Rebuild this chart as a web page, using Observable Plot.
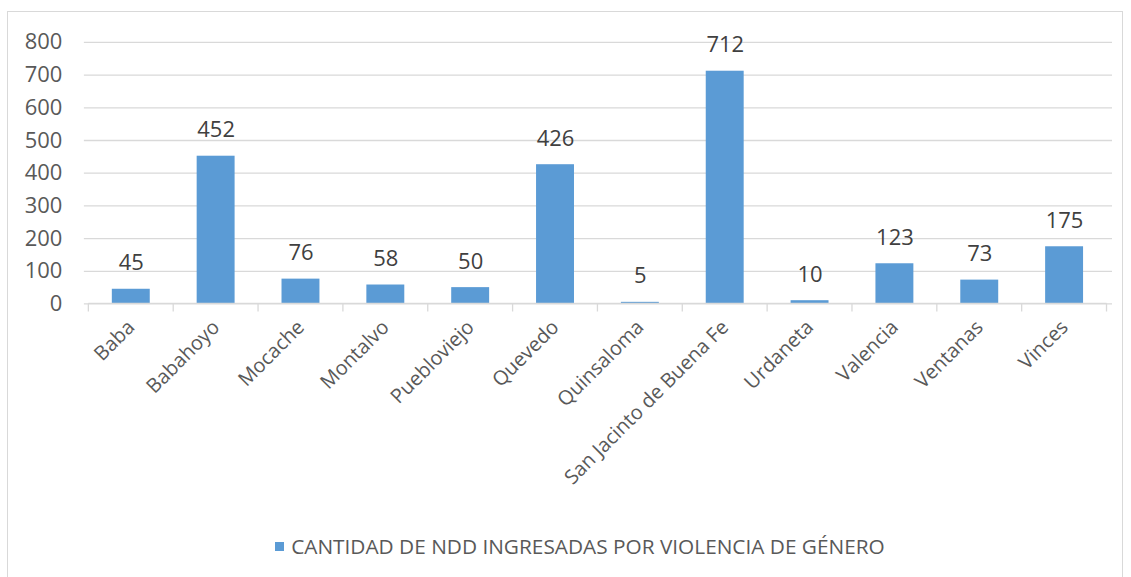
<!DOCTYPE html>
<html>
<head>
<meta charset="utf-8">
<script src="https://cdn.jsdelivr.net/npm/d3@7"></script>
<script src="https://cdn.jsdelivr.net/npm/@observablehq/plot@0.6"></script>
<style>
  html, body { margin: 0; padding: 0; background: #fff; }
  #frame { position: absolute; left: 7px; top: 11px; width: 1116px; height: 570px; border: 1px solid #d9d9d9; box-sizing: border-box; overflow: hidden; }
  #chart { position: absolute; left: 0; top: 0; }
  #legend { position: absolute; left: 14px; width: 1116px; top: 520px; text-align: center; font-family: "Open Sans", sans-serif; font-size: 20.8px; color: #595959; white-space: nowrap; }
  #legend .sw { display: inline-block; width: 9px; height: 9px; background: #5B9BD5; margin-right: 7px; vertical-align: middle; position: relative; top: -2px; }
</style>
</head>
<body>
<div id="frame"><div id="chart"></div><div id="legend"></div></div>
<script>
const categories = ["Baba","Babahoyo","Mocache","Montalvo","Puebloviejo","Quevedo","Quinsaloma","San Jacinto de Buena Fe","Urdaneta","Valencia","Ventanas","Vinces"];
const values = [45,452,76,58,50,426,5,712,10,123,73,175];
const yTicks = [0,100,200,300,400,500,600,700,800];
const seriesName = "CANTIDAD DE NDD INGRESADAS POR VIOLENCIA DE GÉNERO";

const data = categories.map((c, i) => ({category: c, value: values[i]}));
const font = "Open Sans, sans-serif";

const boundaryTicks = (index, scales, values, dimensions) => {
  const x = scales.x, y = scales.y;
  const bw = x.bandwidth();
  const step = x.step ? x.step() : bw / (1 - 0.55);
  const y0 = y(0);
  const g = d3.create("svg:g");
  const xs = categories.map(c => x(c) + bw / 2 - step / 2);
  xs.push(x(categories[categories.length - 1]) + bw / 2 + step / 2);
  g.append("path")
    .attr("d", xs.map(v => `M${v},${y0}V${y0 + 8}`).join("") + `M${xs[0]},${y0}H${xs[xs.length-1]}`)
    .attr("stroke", "#d9d9d9").attr("stroke-width", 1.3).attr("fill", "none");
  return g.node();
};

const chart = Plot.plot({
  width: 1116,
  height: 520,
  marginLeft: 76,
  marginRight: 10,
  marginTop: 30,
  marginBottom: 228,
  style: {fontFamily: font, background: "transparent"},
  x: {domain: categories, paddingInner: 0.55, paddingOuter: 0.275, label: null},
  y: {domain: [0, 800], ticks: yTicks, label: null},
  marks: [
    Plot.gridY(yTicks, {stroke: "#d9d9d9", strokeOpacity: 1, strokeWidth: 1.3}),
    Plot.axisY(yTicks, {tickSize: 0, tickPadding: 22, fontSize: 22, fill: "#595959", label: null}),
    Plot.barY(data, {x: "category", y: "value", fill: "#5B9BD5"}),
    boundaryTicks,
    Plot.axisX({tickSize: 0, tickRotate: -45, tickPadding: 20, fontSize: 20, fill: "#595959", label: null}),
    Plot.text(data, {x: "category", y: "value", text: d => String(d.value), dy: -26, fontSize: 22, fill: "#404040"})
  ]
});
document.getElementById("chart").appendChild(chart);
document.getElementById("legend").innerHTML = `<span class="sw"></span>${seriesName}`;
</script>
</body>
</html>
